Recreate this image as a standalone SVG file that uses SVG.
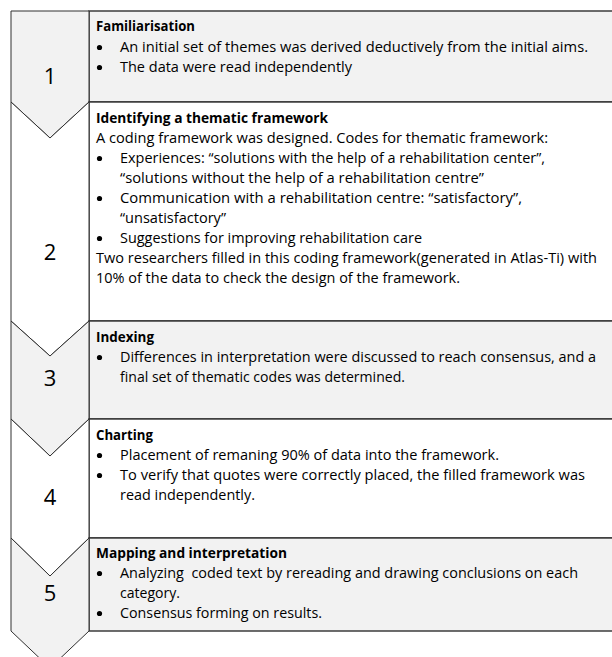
<svg xmlns="http://www.w3.org/2000/svg" width="612" height="657" viewBox="0 0 612 657">
<style>
.bg{fill:#ffffff}
.box{stroke:#303030;stroke-width:1.4}
.gray{fill:#f2f2f2}
.white{fill:#ffffff}
.chev{stroke:#303030;stroke-width:1;stroke-linejoin:miter}
.t{font-family:"Open Sans","Liberation Sans",sans-serif;font-size:14px;fill:#000}
.b{font-weight:700}
.dot{fill:#000}
.num{font-family:"Open Sans","Liberation Sans",sans-serif;font-size:22px;fill:#000;text-anchor:middle}
</style>
<defs>
<circle id="bullet" class="dot" cx="0" cy="0" r="2.6"/>
</defs>
<rect class="bg" x="0" y="0" width="612" height="657"/>
<g id="step1">
<rect class="box gray" x="89" y="11" width="540" height="91"/>
<polygon class="chev gray" points="11,11 89,11 89,102 50,138 11,102"/>
<text class="num" x="50" y="84">1</text>
<text class="t b" x="96" y="31" textLength="99" lengthAdjust="spacingAndGlyphs">Familiarisation</text>
<use href="#bullet" x="99.5" y="47.5"/>
<text class="t" x="120" y="52" textLength="468" lengthAdjust="spacingAndGlyphs">An initial set of themes was derived deductively from the initial aims.</text>
<use href="#bullet" x="99.5" y="67.5"/>
<text class="t" x="120" y="72" textLength="232" lengthAdjust="spacingAndGlyphs">The data were read independently</text>
</g>
<g id="step2">
<rect class="box white" x="89" y="102" width="540" height="219"/>
<polygon class="chev white" points="11,102 50,138 89,102 89,321 50,356 11,321"/>
<text class="num" x="50" y="260">2</text>
<text class="t b" x="96" y="123" textLength="232" lengthAdjust="spacingAndGlyphs">Identifying a thematic framework</text>
<text class="t" x="96" y="143" textLength="452" lengthAdjust="spacingAndGlyphs">A coding framework was designed. Codes for thematic framework:</text>
<use href="#bullet" x="99.5" y="158.5"/>
<text class="t" x="120" y="163" textLength="425" lengthAdjust="spacingAndGlyphs">Experiences: “solutions with the help of a rehabilitation center”,</text>
<text class="t" x="120" y="183" textLength="364" lengthAdjust="spacingAndGlyphs">“solutions without the help of a rehabilitation centre”</text>
<use href="#bullet" x="99.5" y="198.5"/>
<text class="t" x="120" y="203" textLength="402" lengthAdjust="spacingAndGlyphs">Communication with a rehabilitation centre: “satisfactory”,</text>
<text class="t" x="120" y="223" textLength="106" lengthAdjust="spacingAndGlyphs">“unsatisfactory”</text>
<use href="#bullet" x="99.5" y="238.5"/>
<text class="t" x="120" y="243" textLength="302" lengthAdjust="spacingAndGlyphs">Suggestions for improving rehabilitation care</text>
<text class="t" x="96" y="263" textLength="501" lengthAdjust="spacingAndGlyphs">Two researchers filled in this coding framework(generated in Atlas-Ti) with</text>
<text class="t" x="96" y="283" textLength="364" lengthAdjust="spacingAndGlyphs">10% of the data to check the design of the framework.</text>
</g>
<g id="step3">
<rect class="box gray" x="89" y="321" width="540" height="98"/>
<polygon class="chev gray" points="11,321 50,356 89,321 89,419 50,456 11,419"/>
<text class="num" x="50" y="386">3</text>
<text class="t b" x="96" y="342" textLength="58" lengthAdjust="spacingAndGlyphs">Indexing</text>
<use href="#bullet" x="99.5" y="357.5"/>
<text class="t" x="120" y="362" textLength="476" lengthAdjust="spacingAndGlyphs">Differences in interpretation were discussed to reach consensus, and a</text>
<text class="t" x="120" y="382" textLength="285" lengthAdjust="spacingAndGlyphs">final set of thematic codes was determined.</text>
</g>
<g id="step4">
<rect class="box white" x="89" y="419" width="540" height="119"/>
<polygon class="chev white" points="11,419 50,456 89,419 89,538 50,576 11,538"/>
<text class="num" x="50" y="505">4</text>
<text class="t b" x="96" y="440" textLength="57" lengthAdjust="spacingAndGlyphs">Charting</text>
<use href="#bullet" x="99.5" y="455.5"/>
<text class="t" x="120" y="460" textLength="379" lengthAdjust="spacingAndGlyphs">Placement of remaning 90% of data into the framework.</text>
<use href="#bullet" x="99.5" y="475.5"/>
<text class="t" x="120" y="480" textLength="465" lengthAdjust="spacingAndGlyphs">To verify that quotes were correctly placed, the filled framework was</text>
<text class="t" x="120" y="500" textLength="135" lengthAdjust="spacingAndGlyphs">read independently.</text>
</g>
<g id="step5">
<rect class="box gray" x="89" y="538" width="540" height="93"/>
<polygon class="chev gray" points="11,538 50,576 89,538 89,631 50,668 11,631"/>
<text class="num" x="50" y="601">5</text>
<text class="t b" x="96" y="558" textLength="191" lengthAdjust="spacingAndGlyphs">Mapping and interpretation</text>
<use href="#bullet" x="99.5" y="573.5"/>
<text class="t" x="120" y="578" textLength="458" lengthAdjust="spacingAndGlyphs" xml:space="preserve">Analyzing  coded text by rereading and drawing conclusions on each</text>
<text class="t" x="120" y="598" textLength="60" lengthAdjust="spacingAndGlyphs">category.</text>
<use href="#bullet" x="99.5" y="613.5"/>
<text class="t" x="120" y="618" textLength="202" lengthAdjust="spacingAndGlyphs">Consensus forming on results.</text>
</g>
</svg>
